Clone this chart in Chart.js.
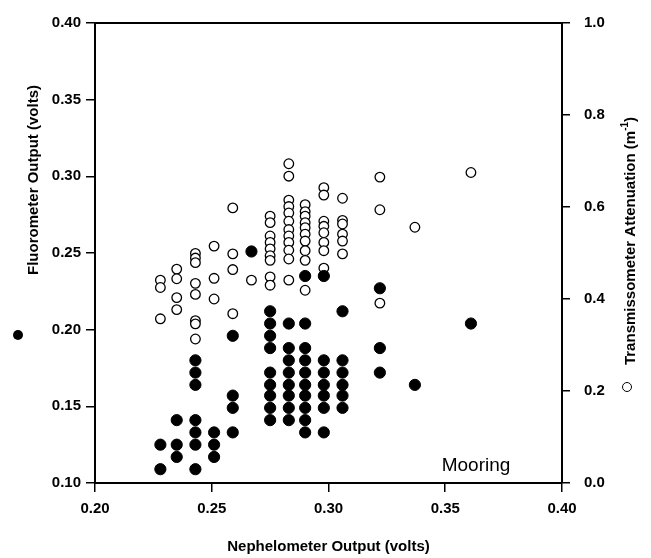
<!DOCTYPE html>
<html>
<head>
<meta charset="utf-8">
<script src="https://cdn.jsdelivr.net/npm/chart.js@4.4.1/dist/chart.umd.min.js"></script>
<style>
  html, body { margin: 0; padding: 0; background: #fff; }
</style>
</head>
<body>
<canvas id="mooringChart" width="651" height="558"></canvas>
<script>
// Fluorometer output (filled circles, left axis) vs nephelometer output
const fluoroX = [
  0.228, 0.228,
  0.235, 0.235, 0.235,
  0.243, 0.243, 0.243, 0.243, 0.243, 0.243, 0.243,
  0.251, 0.251, 0.251,
  0.259, 0.259, 0.259, 0.259,
  0.267,
  0.275, 0.275, 0.275, 0.275, 0.275, 0.275, 0.275, 0.275, 0.275,
  0.283, 0.283, 0.283, 0.283, 0.283, 0.283, 0.283, 0.283,
  0.290, 0.290, 0.290, 0.290, 0.290, 0.290, 0.290, 0.290, 0.290, 0.290,
  0.298, 0.298, 0.298, 0.298, 0.298, 0.298, 0.298,
  0.306, 0.306, 0.306, 0.306, 0.306, 0.306,
  0.322, 0.322, 0.322,
  0.337,
  0.361
];
const fluoroY = [
  0.125, 0.109,
  0.141, 0.125, 0.117,
  0.180, 0.172, 0.164, 0.141, 0.133, 0.125, 0.109,
  0.133, 0.125, 0.117,
  0.196, 0.157, 0.149, 0.133,
  0.251,
  0.212, 0.204, 0.196, 0.188, 0.172, 0.164, 0.157, 0.149, 0.141,
  0.204, 0.188, 0.180, 0.172, 0.164, 0.157, 0.149, 0.141,
  0.235, 0.204, 0.188, 0.180, 0.172, 0.164, 0.157, 0.149, 0.141, 0.133,
  0.235, 0.180, 0.172, 0.164, 0.157, 0.149, 0.133,
  0.212, 0.180, 0.172, 0.164, 0.157, 0.149,
  0.227, 0.188, 0.172,
  0.164,
  0.204
];

// Transmissometer attenuation (open circles, right axis)
const transX = [
  0.228, 0.228, 0.228,
  0.235, 0.235, 0.235, 0.235,
  0.243, 0.243, 0.243, 0.243, 0.243, 0.243, 0.243, 0.243,
  0.251, 0.251, 0.251,
  0.259, 0.259, 0.259, 0.259,
  0.267,
  0.275, 0.275, 0.275, 0.275, 0.275, 0.275, 0.275, 0.275, 0.275,
  0.283, 0.283, 0.283, 0.283, 0.283, 0.283, 0.283, 0.283, 0.283, 0.283, 0.283, 0.283,
  0.290, 0.290, 0.290, 0.290, 0.290, 0.290, 0.290, 0.290, 0.290, 0.290,
  0.298, 0.298, 0.298, 0.298, 0.298, 0.298, 0.298, 0.298,
  0.306, 0.306, 0.306, 0.306, 0.306, 0.306,
  0.322, 0.322, 0.322,
  0.337,
  0.361
];
const transY = [
  0.441, 0.425, 0.357,
  0.465, 0.444, 0.403, 0.377,
  0.499, 0.489, 0.479, 0.434, 0.410, 0.353, 0.346, 0.313,
  0.515, 0.445, 0.400,
  0.598, 0.498, 0.464, 0.368,
  0.441,
  0.580, 0.566, 0.537, 0.523, 0.509, 0.494, 0.484, 0.448, 0.430,
  0.694, 0.667, 0.615, 0.601, 0.587, 0.569, 0.551, 0.537, 0.523, 0.506, 0.487, 0.441,
  0.605, 0.590, 0.580, 0.566, 0.555, 0.541, 0.526, 0.505, 0.484, 0.419,
  0.642, 0.626, 0.569, 0.558, 0.544, 0.523, 0.505, 0.467,
  0.619, 0.571, 0.563, 0.541, 0.526, 0.498,
  0.665, 0.594, 0.391,
  0.556,
  0.675
];

const FONT = '"Liberation Sans", Arial, Helvetica, sans-serif';

// titles, legend symbols and the top frame line
const decorations = {
  id: 'decorations',
  afterDraw(chart) {
    const ctx = chart.ctx;
    const area = chart.chartArea;
    ctx.save();
    ctx.strokeStyle = '#000';
    ctx.lineWidth = 2;
    ctx.beginPath();
    ctx.moveTo(area.left - 1, area.top);
    ctx.lineTo(area.right + 1, area.top);
    ctx.stroke();

    ctx.fillStyle = '#000';
    ctx.textAlign = 'center';
    ctx.textBaseline = 'middle';

    // left title
    ctx.save();
    ctx.translate(34, 180);
    ctx.rotate(-Math.PI / 2);
    ctx.font = 'bold 15px ' + FONT;
    ctx.fillText('Fluorometer Output (volts)', 0, 0);
    ctx.restore();

    ctx.beginPath();
    ctx.arc(18, 335, 5, 0, Math.PI * 2);
    ctx.fill();

    // right title with superscript
    ctx.save();
    ctx.translate(630, 241);
    ctx.rotate(-Math.PI / 2);
    ctx.textAlign = 'left';
    ctx.textBaseline = 'alphabetic';
    const main = 'Transmissometer Attenuation (m';
    ctx.font = 'bold 15px ' + FONT;
    const w1 = ctx.measureText(main).width;
    const w3 = ctx.measureText(')').width;
    ctx.font = 'bold 10px ' + FONT;
    const w2 = ctx.measureText('-1').width;
    let x0 = -(w1 + w2 + w3) / 2;
    ctx.font = 'bold 15px ' + FONT;
    ctx.fillText(main, x0, 5);
    ctx.font = 'bold 10px ' + FONT;
    ctx.fillText('-1', x0 + w1, -2);
    ctx.font = 'bold 15px ' + FONT;
    ctx.fillText(')', x0 + w1 + w2, 5);
    ctx.restore();

    ctx.lineWidth = 1;
    ctx.beginPath();
    ctx.arc(627, 387, 4.5, 0, Math.PI * 2);
    ctx.stroke();

    // station label
    ctx.font = '19px ' + FONT;
    ctx.fillText('Mooring', 476, 466);
    ctx.restore();
  }
};

const tickFont = { family: FONT, size: 15, weight: 'bold' };

new Chart(document.getElementById('mooringChart').getContext('2d'), {
  type: 'scatter',
  data: {
    datasets: [{
      label: 'Fluorometer',
      data: fluoroX.map((x, i) => ({ x: x, y: fluoroY[i] })),
      yAxisID: 'y',
      backgroundColor: '#000',
      borderColor: '#000',
      borderWidth: 1,
      pointRadius: 5.6
    }, {
      label: 'Transmissometer',
      data: transX.map((x, i) => ({ x: x, y: transY[i] })),
      yAxisID: 'y2',
      backgroundColor: '#fff',
      borderColor: '#000',
      borderWidth: 1.3,
      pointRadius: 4.8
    }]
  },
  options: {
    responsive: false,
    animation: false,
    layout: { padding: { top: 15 } },
    plugins: { legend: { display: false }, tooltip: { enabled: false } },
    scales: {
      x: {
        type: 'linear',
        min: 0.2,
        max: 0.4,
        ticks: { stepSize: 0.05, callback: v => v.toFixed(2), color: '#000', font: tickFont, padding: 8, maxRotation: 0 },
        grid: { drawOnChartArea: false, tickLength: 9, color: '#000', lineWidth: 1.5 },
        border: { color: '#000', width: 2 },
        title: {
          display: true,
          text: 'Nephelometer Output (volts)',
          color: '#000',
          font: { family: FONT, size: 15, weight: 'bold' },
          padding: { top: 0, bottom: 2 }
        },
        afterFit: s => { s.height = 75; }
      },
      y: {
        position: 'left',
        min: 0.1,
        max: 0.4,
        ticks: { stepSize: 0.05, callback: v => v.toFixed(2), color: '#000', font: tickFont, padding: 5 },
        grid: { drawOnChartArea: false, tickLength: 9, color: '#000', lineWidth: 1.5 },
        border: { color: '#000', width: 2 },
        afterFit: s => { s.width = 95; }
      },
      y2: {
        position: 'right',
        min: 0,
        max: 1,
        ticks: { stepSize: 0.2, callback: v => v.toFixed(1), color: '#000', font: tickFont, padding: 14 },
        grid: { drawOnChartArea: false, tickLength: 8, color: '#000', lineWidth: 1.5 },
        border: { color: '#000', width: 2 },
        afterFit: s => { s.width = 89; }
      }
    }
  },
  plugins: [decorations]
});
</script>
</body>
</html>
